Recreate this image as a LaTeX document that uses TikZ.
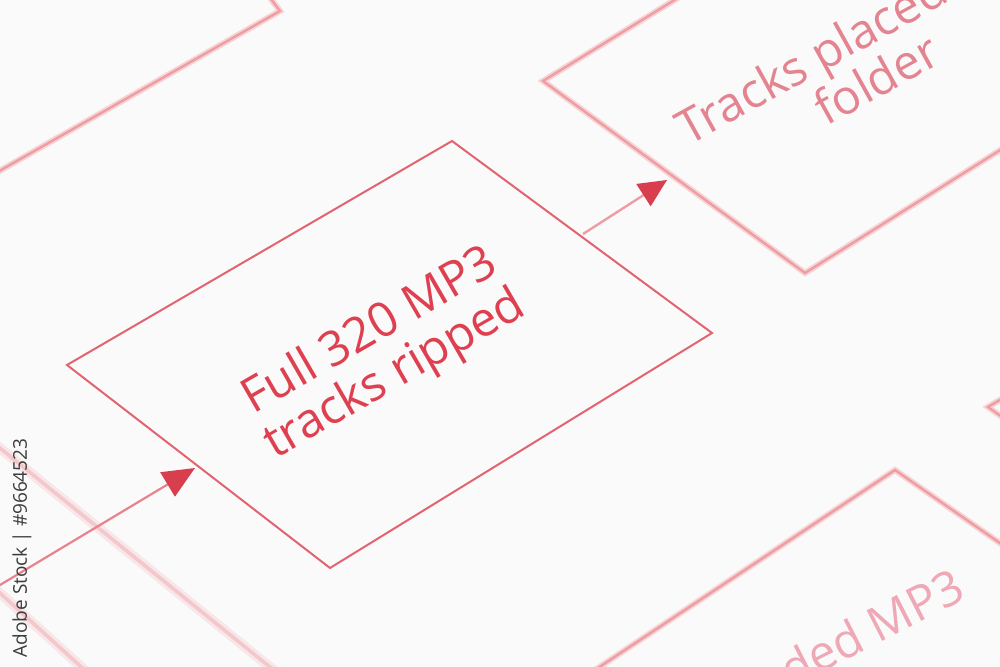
\documentclass[tikz,border=0pt]{standalone}
\usepackage{fontspec}
\setmainfont{Open Sans}
\usetikzlibrary{arrows.meta,calc}
\definecolor{paper}{RGB}{250,250,251}
\definecolor{mainred}{RGB}{226,100,112}
\definecolor{softred}{RGB}{238,158,162}
\definecolor{faintred}{RGB}{242,200,204}
\definecolor{arrowred}{RGB}{216,62,78}
\definecolor{textred}{RGB}{222,64,80}
\definecolor{softtext}{RGB}{228,132,144}
\definecolor{fainttext}{RGB}{238,168,182}
\definecolor{stockgray}{RGB}{60,60,60}
\tikzset{
  mainedge/.style={draw=mainred, line width=1pt, line join=miter},
  softedge/.style={draw=softred, line width=1.2pt, preaction={draw=softred!45, line width=3pt}},
  faintedge/.style={draw=faintred, line width=1.8pt, preaction={draw=faintred!45, line width=5pt}},
  leftconn/.style={draw=mainred!80, line width=1.1pt, -{Triangle[length=16pt,width=14pt,color=arrowred]}},
  topconn/.style={draw=softred, line width=1.2pt, -{Triangle[length=14pt,width=13pt,color=arrowred]}},
  boxtext/.style={font=\fontsize{24}{25}\selectfont, align=center, inner sep=0pt},
}
\begin{document}
\begin{tikzpicture}[x=0.5pt,y=-0.5pt]
\useasboundingbox (0,0) rectangle (1000,667);
\fill[paper] (0,0) rectangle (1000,667);
\clip (0,0) rectangle (1000,667);

% main box
\coordinate (mT) at (452,141);
\coordinate (mR) at (712,333);
\coordinate (mB) at (330,568);
\coordinate (mL) at (67,365);
% top-right box
\coordinate (tTop) at (707,-20);
\coordinate (tL) at (543,81);
\coordinate (tB) at (805,273);
\coordinate (tRight) at (1040,125);
% top-left box
\coordinate (lLeft) at (-20,182);
\coordinate (lR) at (280,11);
\coordinate (lTop) at (264,-10);
% bottom-right box
\coordinate (bLeft) at (550,700);
\coordinate (bT) at (895,470);
\coordinate (bRight) at (1040,571);
% right small box
\coordinate (rUp) at (1030,382);
\coordinate (rC) at (988,407);
\coordinate (rDown) at (1030,437);
% lower-left faint lines
\coordinate (aS) at (-10,440);
\coordinate (aE) at (292,685);
\coordinate (cS) at (-10,584);
\coordinate (cE) at (100,684);
% connectors
\coordinate (lcS) at (-10,591);
\coordinate (lcT) at (195,468);
\coordinate (tcS) at (583,234);
\coordinate (tcT) at (667,180);

\draw[faintedge] (aS) -- (aE);
\draw[faintedge] (cS) -- (cE);
\draw[softedge] (lLeft) -- (lR) -- (lTop);
\draw[softedge] (tTop) -- (tL) -- (tB) -- (tRight);
\draw[softedge] (bLeft) -- (bT) -- (bRight);
\draw[softedge] (rUp) -- (rC) -- (rDown);
\draw[mainedge] (mT) -- (mR) -- (mB) -- (mL) -- cycle;

\draw[leftconn] (lcS) -- (lcT);
\draw[topconn] (tcS) -- (tcT);

\node[boxtext, text=textred, rotate=30] (main) at (383,354) {Full 320 MP3\\tracks ripped};
\node[boxtext, text=softtext, rotate=29] (placed) at (864,57) {Tracks placed in a\\folder};
\node[boxtext, text=fainttext, rotate=27, anchor=base east] (encoded) at (968,598) {Encoded MP3};
\node[text=stockgray, font=\fontsize{9.5}{10}\selectfont, rotate=90, inner sep=0pt] (stock) at (22,548) {Adobe Stock | \#9664523};
\end{tikzpicture}
\end{document}
